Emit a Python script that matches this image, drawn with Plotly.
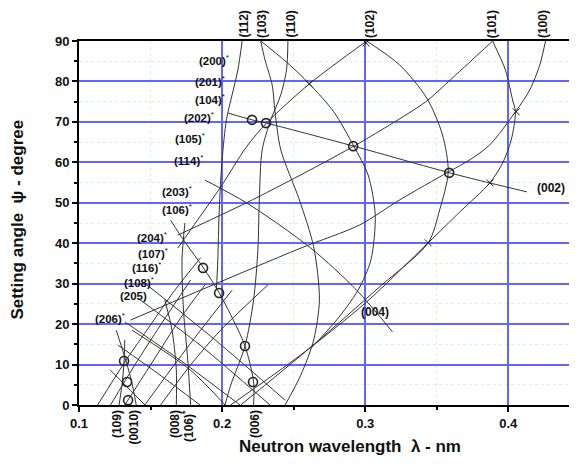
import plotly.graph_objects as go

# ---------------- data (wavelength nm, setting angle deg) ----------------
x_tick_vals = [0.1, 0.2, 0.3, 0.4]
y_tick_vals = [0, 10, 20, 30, 40, 50, 60, 70, 80, 90]

c002_x = [0.204, 0.221, 0.231, 0.292, 0.359, 0.387, 0.413]
c002_y = [72.2, 70.5, 69.7, 64.0, 57.4, 54.9, 52.7]

c004_x = [0.188, 0.217, 0.262, 0.294, 0.319]
c004_y = [55.6, 50.0, 38.8, 28.4, 18.1]

c102a_x = [0.301, 0.261, 0.231, 0.217, 0.199, 0.183, 0.169]
c102a_y = [90, 79.4, 69.7, 63.8, 53.9, 45.8, 38.8]

c102b_x = [0.301, 0.324, 0.343, 0.354, 0.358, 0.352, 0.344, 0.310, 0.262, 0.213]
c102b_y = [90, 84.1, 75.9, 66.8, 57.6, 48.2, 40.1, 29.2, 14.3, 0]

c101a_x = [0.389, 0.358, 0.342, 0.296, 0.255, 0.217, 0.169]
c101a_y = [90, 79.9, 74.9, 64.8, 56.9, 50.0, 42.0]

c101b_x = [0.389, 0.398, 0.403, 0.405, 0.402, 0.396, 0.387, 0.366, 0.344, 0.301, 0.255, 0.206]
c101b_y = [90, 82.8, 75.4, 72.5, 65.5, 59.8, 54.9, 47.7, 40.1, 25.5, 12.4, 0]

c100_x = [0.426, 0.422, 0.415, 0.405, 0.387, 0.373, 0.358, 0.324, 0.296, 0.255, 0.185, 0.136]
c100_y = [90, 84.1, 77.9, 72.5, 64.3, 60.6, 57.6, 50.7, 44.5, 38.8, 28.4, 21.0]

c103a_x = [0.227, 0.245, 0.261, 0.278, 0.292, 0.302, 0.307, 0.304, 0.295, 0.280, 0.262]
c103a_y = [90, 84.8, 79.4, 72.5, 64.0, 56.9, 47.0, 35.9, 28.4, 21.0, 14.0]

c103b_x = [0.227, 0.230, 0.235, 0.237, 0.241, 0.254, 0.264, 0.268, 0.264, 0.255, 0.244]
c103b_y = [90, 85.3, 79.1, 72.5, 63.1, 50.7, 39.1, 26.0, 16.1, 7.4, 0]

c110_x = [0.246, 0.245, 0.241, 0.234, 0.228, 0.226, 0.225, 0.222, 0.216, 0.206, 0.202]
c110_y = [90, 82.8, 76.7, 70.5, 63.1, 50.7, 38.3, 26.0, 14.6, 4.9, 0]

c112_x = [0.214, 0.211, 0.207, 0.203, 0.200, 0.198, 0.197, 0.196]
c112_y = [90, 82.8, 76.7, 70.5, 60.6, 48.2, 35.9, 28.4]

c006_x = [0.222, 0.222, 0.216, 0.206, 0.198, 0.187, 0.174, 0.164]
c006_y = [0, 5.7, 14.6, 22.3, 27.7, 33.9, 40.3, 45.7]

c109_x = [0.128, 0.130, 0.1315, 0.132]
c109_y = [0, 4.9, 10.9, 16.1]
c0010_x = [0.140, 0.1365, 0.1315, 0.126]
c0010_y = [0, 6.2, 12.4, 18.5]
c008_x = [0.168, 0.168, 0.165, 0.160]
c008_y = [0, 8.7, 18.5, 26.0]
c106_x = [0.178, 0.176, 0.173, 0.172, 0.174]
c106_y = [0, 11.1, 23.5, 35.9, 45.0]

asc1_x = [0.113, 0.132, 0.150, 0.167, 0.185]
asc1_y = [0, 10.6, 19.8, 28.4, 36.4]
asc2_x = [0.122, 0.139, 0.157, 0.178]
asc2_y = [0, 9.9, 19.8, 30.9]
asc3_x = [0.132, 0.150, 0.171, 0.188]
asc3_y = [0, 9.9, 21.5, 29.7]
asc4_x = [0.146, 0.164, 0.185, 0.207]
asc4_y = [0, 8.7, 18.5, 28.4]
asc5_x = [0.157, 0.178, 0.199, 0.232]
asc5_y = [0, 9.9, 18.5, 29.7]

dsc1_x = [0.1322, 0.1706, 0.2125]
dsc1_y = [20.5, 11.1, 0]
dsc2_x = [0.1371, 0.1776, 0.2021]
dsc2_y = [18.5, 8.7, 0]
dsc3_x = [0.1427, 0.1846, 0.2335]
dsc3_y = [26.0, 14.8, 0]
dsc4_x = [0.1475, 0.1951, 0.2440]
dsc4_y = [29.7, 16.1, 1.2]
dsc5_x = [0.1273, 0.1566, 0.1846]
dsc5_y = [14.8, 7.4, 0]
dsc6_x = [0.1217, 0.1461]
dsc6_y = [8.7, 0]

circ_x = [0.2209, 0.2307, 0.2916, 0.3587, 0.1867, 0.1979, 0.2160, 0.2216, 0.1315, 0.1336, 0.1343]
circ_y = [70.5, 69.7, 64.0, 57.4, 33.9, 27.7, 14.6, 5.7, 10.9, 5.7, 1.2]

tick_x = [0.2608, 0.4055, 0.3873, 0.3440, 0.3006]
tick_y = [79.4, 72.5, 54.9, 40.1, 89.5]

top_labels = ["(112)", "(103)", "(110)", "(102)", "(101)", "(100)"]
top_label_x = [0.2146, 0.2279, 0.2475, 0.3034, 0.3887, 0.4243]

bottom_labels = ["(109)", "(0010)", "(008)", "(106)<sup>*</sup>", "(006)"]
bottom_label_x = [0.1266, 0.1378, 0.1671, 0.1762, 0.2230]

side_labels = ["(200)", "(201)", "(104)", "(202)", "(105)", "(114)", "(203)", "(106)",
               "(204)", "(107)", "(116)", "(108)", "(205)", "(206)", "(116)", "(114)"]
side_star = [1, 1, 1, 1, 1, 1, 1, 1, 1, 1, 1, 1, 0, 1, 1, 0]
side_label_x = [0.1825, 0.1797, 0.1797, 0.1720, 0.1657, 0.1650, 0.1566, 0.1566,
                0.1391, 0.1398, 0.1356, 0.1301, 0.1273, 0.1098, 0.0937, 0.0867]
side_label_y = [85.3, 80.1, 75.7, 71.2, 66.0, 60.6, 52.9, 48.5,
                41.5, 37.6, 34.0, 30.4, 27.0, 21.5, 6.2, 2.7]

curve_list = [
    (c002_x, c002_y), (c004_x, c004_y), (c102a_x, c102a_y), (c102b_x, c102b_y),
    (c101a_x, c101a_y), (c101b_x, c101b_y), (c100_x, c100_y), (c103a_x, c103a_y),
    (c103b_x, c103b_y), (c110_x, c110_y), (c112_x, c112_y), (c006_x, c006_y),
    (c109_x, c109_y), (c0010_x, c0010_y), (c008_x, c008_y), (c106_x, c106_y),
    (asc1_x, asc1_y), (asc2_x, asc2_y), (asc3_x, asc3_y), (asc4_x, asc4_y), (asc5_x, asc5_y),
    (dsc1_x, dsc1_y), (dsc2_x, dsc2_y), (dsc3_x, dsc3_y), (dsc4_x, dsc4_y),
    (dsc5_x, dsc5_y), (dsc6_x, dsc6_y),
]

fig = go.Figure()
for cx, cy in curve_list:
    fig.add_trace(go.Scatter(x=cx, y=cy, mode="lines",
                             line=dict(color="#333333", width=1, shape="spline", smoothing=0.8),
                             hoverinfo="skip", showlegend=False))

fig.add_trace(go.Scatter(x=circ_x, y=circ_y, mode="markers",
                         marker=dict(symbol="circle-open", size=9, color="#222",
                                     line=dict(width=1.6, color="#222")),
                         showlegend=False, hoverinfo="skip"))
fig.add_trace(go.Scatter(x=tick_x, y=tick_y, mode="markers",
                         marker=dict(symbol="x-thin-open", size=7, color="#222",
                                     line=dict(width=1, color="#222")),
                         showlegend=False, hoverinfo="skip"))

font_main = "Arial, Liberation Sans, sans-serif"
lab_font = dict(family=font_main, size=12, color="#111")
side_font = dict(family=font_main, size=11.5, color="#111")
star = "<sup>*</sup>"
ann = []
for t, xv in zip(top_labels, top_label_x):
    ann.append(dict(x=xv, y=1.0, xref="x", yref="paper", text="<b>" + t + "</b>", showarrow=False,
                    textangle=-90, xanchor="center", yanchor="bottom", yshift=1, font=lab_font))
for t, xv in zip(bottom_labels, bottom_label_x):
    ann.append(dict(x=xv, y=0.0, xref="x", yref="paper", text="<b>" + t + "</b>", showarrow=False,
                    textangle=-90, xanchor="center", yanchor="top", yshift=-3, font=lab_font))
for t, s, xv, yv in zip(side_labels, side_star, side_label_x, side_label_y):
    txt = "<b>" + t + "</b>" + (star if s else "")
    ann.append(dict(x=xv, y=yv, xref="x", yref="y", text=txt, showarrow=False,
                    xanchor="left", yanchor="middle", font=side_font))
ann.append(dict(x=0.2955, y=22.9, xref="x", yref="y", text="<b>(004)</b>", showarrow=False,
                xanchor="left", yanchor="middle", font=lab_font))
ann.append(dict(x=0.4185, y=53.6, xref="x", yref="y", text="<b>(002)</b>", showarrow=False,
                xanchor="left", yanchor="middle", font=lab_font))
ann.append(dict(x=0.544, y=-0.115, xref="paper", yref="paper",
                text="<b>Neutron wavelength  λ - nm</b>", showarrow=False,
                xanchor="center", yanchor="middle", font=dict(family=font_main, size=17, color="#111")))
ann.append(dict(x=-0.124, y=0.51, xref="paper", yref="paper",
                text="<b>Setting angle  ψ - degree</b>", showarrow=False, textangle=-90,
                xanchor="center", yanchor="middle", font=dict(family=font_main, size=17, color="#111")))

fig.update_layout(
    width=569, height=459,
    margin=dict(l=71, r=0, t=33, b=62, autoexpand=False),
    paper_bgcolor="white", plot_bgcolor="white",
    annotations=ann,
    font=dict(family=font_main, color="#111"),
    xaxis=dict(range=[0.1, 0.448], tickvals=x_tick_vals, ticktext=["<b>%g</b>" % v for v in x_tick_vals],
               ticks="outside", ticklen=5, tickwidth=1.5, tickcolor="black", automargin=False,
               showline=True, linecolor="black", linewidth=2, mirror=True,
               showgrid=True, gridcolor="rgb(100,100,255)", gridwidth=1.5,
               minor=dict(dtick=0.05, tick0=0.1, ticks="outside", ticklen=3, tickcolor="black",
                          showgrid=True, gridcolor="rgba(140,225,140,0.35)", griddash="dot", gridwidth=1),
               tickfont=dict(size=13, family=font_main, color="#111"), zeroline=False),
    yaxis=dict(range=[0, 90], tickvals=y_tick_vals, ticktext=["<b>%d</b>" % v for v in y_tick_vals],
               ticks="outside", ticklen=5, tickwidth=1.5, tickcolor="black", automargin=False,
               showline=True, linecolor="black", linewidth=2,
               showgrid=True, gridcolor="rgb(100,100,255)", gridwidth=1.5,
               minor=dict(dtick=5, ticks="outside", ticklen=3, tickcolor="black",
                          showgrid=True, gridcolor="rgba(140,225,140,0.35)", griddash="dot", gridwidth=1),
               tickfont=dict(size=13, family=font_main, color="#111"), zeroline=False),
)

fig.write_html("out.html")
